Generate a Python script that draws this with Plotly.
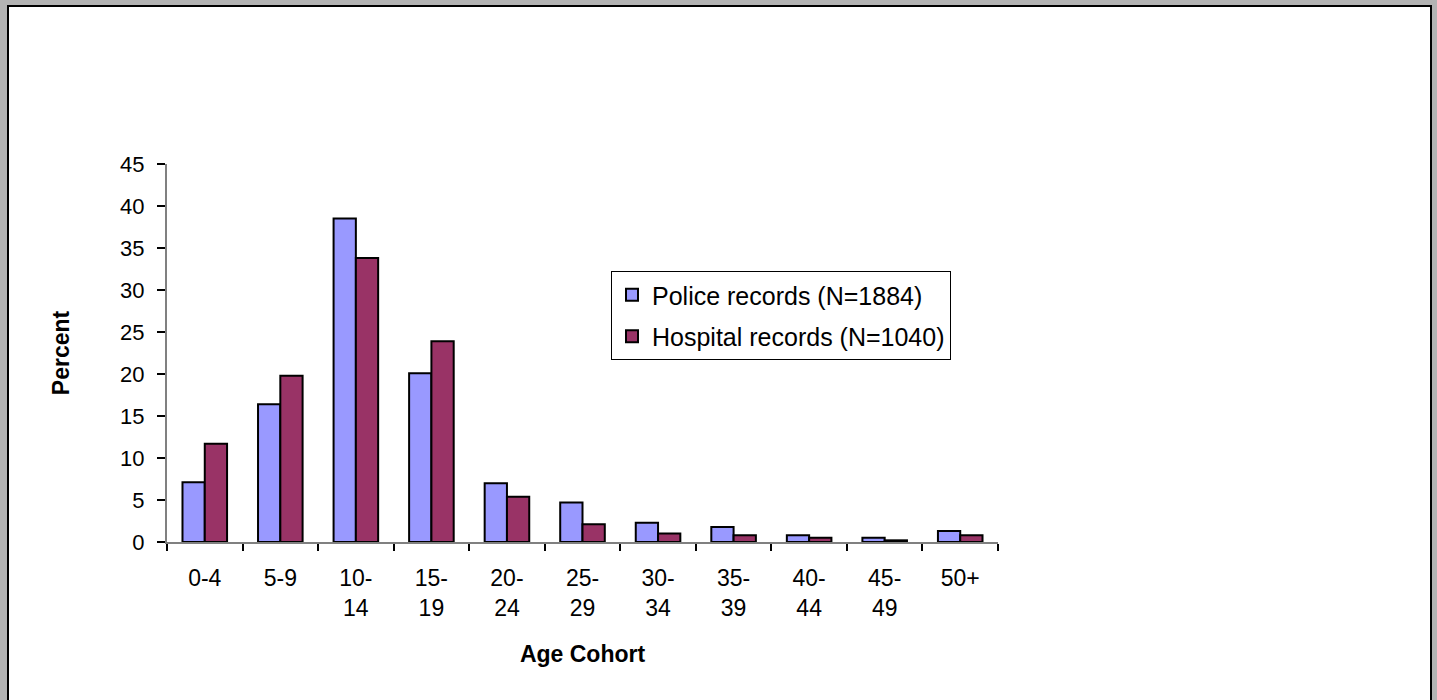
import plotly.graph_objects as go

categories = ["0-4", "5-9", "10-14", "15-19", "20-24", "25-29", "30-34", "35-39", "40-44", "45-49", "50+"]
tick_labels = ["0-4", "5-9", "10-<br>14", "15-<br>19", "20-<br>24", "25-<br>29", "30-<br>34", "35-<br>39", "40-<br>44", "45-<br>49", "50+"]
police = [7.1, 16.4, 38.5, 20.1, 7.0, 4.7, 2.3, 1.8, 0.8, 0.5, 1.3]
hospital = [11.7, 19.8, 33.8, 23.9, 5.4, 2.1, 1.0, 0.8, 0.5, 0.2, 0.8]
y_ticks = [0, 5, 10, 15, 20, 25, 30, 35, 40, 45]

W, H = 1437, 700
L, R, T, B = 167, 439, 164, 158
PW, PH = W - L - R, H - T - B

def px_x(p):
    return (p - L) / PW

def px_y(p):
    return (H - B - p) / PH

FONT = "Liberation Sans, Arial, sans-serif"

fig = go.Figure()
fig.add_trace(go.Bar(x=categories, y=police, name="Police records (N=1884)",
                     marker=dict(color="#9999FF", line=dict(color="black", width=2)),
                     legendgroup="a"))
fig.add_trace(go.Bar(x=categories, y=hospital, name="Hospital records (N=1040)",
                     marker=dict(color="#993366", line=dict(color="black", width=2)),
                     legendgroup="b"))

fig.update_layout(
    width=W, height=H,
    margin=dict(l=L, r=R, t=T, b=B, pad=0),
    paper_bgcolor="#b3b3b3",
    plot_bgcolor="rgba(0,0,0,0)",
    barmode="group", bargap=0.41, bargroupgap=0,
    font=dict(family=FONT, size=22, color="black"),
    showlegend=True,
    legend=dict(x=px_x(611), y=px_y(271), xanchor="left", yanchor="top",
                bgcolor="white", bordercolor="black", borderwidth=1,
                font=dict(size=25, color="black"), tracegroupgap=6,
                traceorder="grouped"),
    shapes=[dict(type="rect", xref="paper", yref="paper", layer="below",
                 x0=px_x(8), x1=px_x(1431), y0=px_y(720), y1=px_y(6),
                 fillcolor="white", line=dict(color="black", width=2))],
)
fig.update_xaxes(
    type="category", tickmode="array", tickvals=categories, ticktext=tick_labels,
    tickson="boundaries", ticks="outside", ticklen=7, tickwidth=1.5, tickcolor="black",
    showline=True, linecolor="#808080", linewidth=2, showgrid=False, zeroline=False,
    tickfont=dict(size=23, color="black"), ticklabelstandoff=14,
    title=dict(text="<b>Age Cohort</b>", font=dict(size=23, color="black"), standoff=26),
)
fig.update_yaxes(
    range=[0, 45], tickmode="array", tickvals=y_ticks,
    ticks="outside", ticklen=8, tickwidth=1.5, tickcolor="black",
    showline=True, linecolor="#808080", linewidth=2, showgrid=False, zeroline=False,
    tickfont=dict(size=22, color="black"), ticklabelstandoff=8,
    title=dict(text="<b>Percent</b>", font=dict(size=23, color="black"), standoff=44),
)

fig.write_html("out.html", config={"displayModeBar": False},
               post_script="document.body.style.margin='0px';document.body.style.padding='0px';")
